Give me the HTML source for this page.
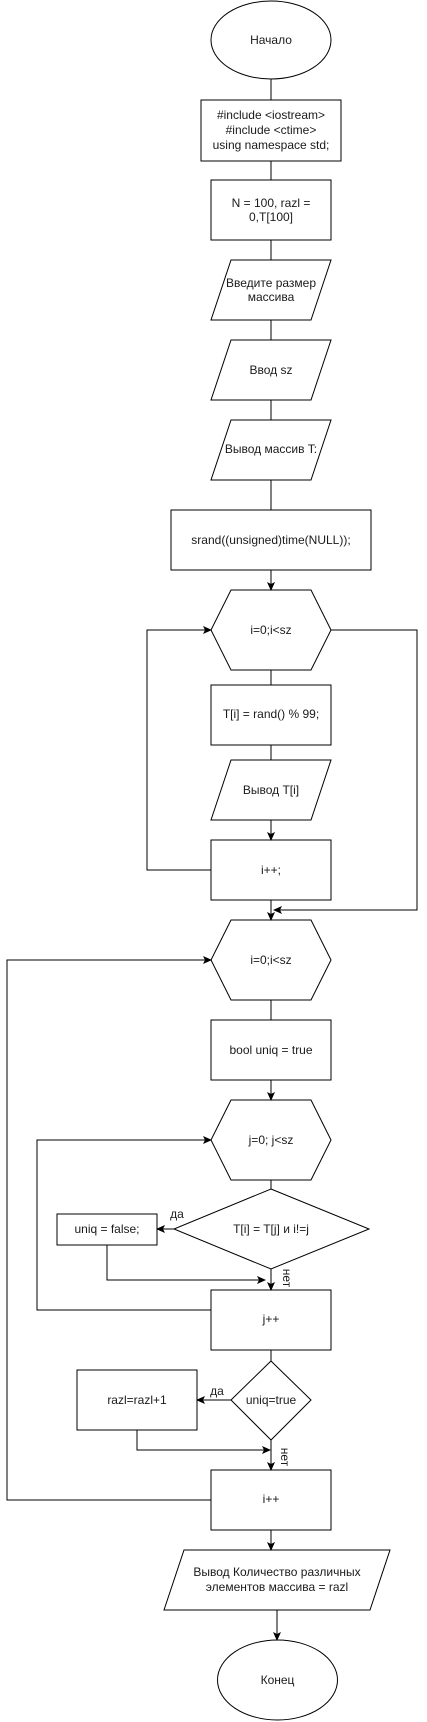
<!DOCTYPE html>
<html><head><meta charset="utf-8"><style>
html,body{margin:0;padding:0;background:#fff;}
svg{display:block;}
text{font-family:"Liberation Sans",Arial,sans-serif;font-size:12px;fill:#1a1a1a;text-anchor:middle;dominant-baseline:central;}
</style></head><body>
<svg width="427" height="1722" viewBox="0 0 427 1722" xmlns="http://www.w3.org/2000/svg">
<defs><marker id="a" markerWidth="10" markerHeight="10" refX="8" refY="4" orient="auto" markerUnits="userSpaceOnUse"><path d="M0,0 L9,4 L0,8 L2,4 Z" fill="#000"/></marker></defs>
<g fill="#fff" stroke="#000" stroke-width="1">
<ellipse cx="271" cy="40" rx="60" ry="39"/>
<rect x="201" y="100" width="140" height="61"/>
<rect x="211" y="180" width="120" height="60"/>
<polygon points="231,260 331,260 311,320 211,320"/>
<polygon points="231,340 331,340 311,400 211,400"/>
<polygon points="231,420 331,420 311,480 211,480"/>
<rect x="171" y="510" width="200" height="60"/>
<polygon points="231,590 311,590 331,630 311,670 231,670 211,630"/>
<rect x="211" y="685" width="120" height="60"/>
<polygon points="231,760 331,760 311,820 211,820"/>
<rect x="211" y="840" width="120" height="60"/>
<polygon points="231,920 311,920 331,960 311,1000 231,1000 211,960"/>
<rect x="211" y="1020" width="120" height="60"/>
<polygon points="231,1100 311,1100 331,1140 311,1180 231,1180 211,1140"/>
<polygon points="271,1189 369,1229 271,1269 174,1229"/>
<rect x="57" y="1214" width="100" height="31"/>
<rect x="211" y="1290" width="120" height="60"/>
<polygon points="271,1361 311,1400 271,1440 231,1400"/>
<rect x="77" y="1370" width="120" height="60"/>
<rect x="211" y="1470" width="120" height="60"/>
<polygon points="184,1550 390,1550 370,1610 164,1610"/>
<ellipse cx="277.5" cy="1680" rx="60" ry="40"/>
</g>
<g fill="none" stroke="#000" stroke-width="1">
<path d="M271,79 V100 M271,161 V180 M271,240 V260 M271,320 V340 M271,400 V420 M271,480 V510"/>
<path d="M271,570 V590" marker-end="url(#a)"/>
<path d="M271,670 V685 M271,745 V760"/>
<path d="M271,820 V840" marker-end="url(#a)"/>
<path d="M211,870 H147 V630 H211" marker-end="url(#a)"/>
<path d="M331,630 H417 V910 H274" marker-end="url(#a)"/>
<path d="M271,900 V920" marker-end="url(#a)"/>
<path d="M271,1000 V1020"/>
<path d="M271,1080 V1100" marker-end="url(#a)"/>
<path d="M271,1180 V1189"/>
<path d="M174,1229 H157" marker-end="url(#a)"/>
<path d="M107,1245 V1280 H265" marker-end="url(#a)"/>
<path d="M271,1269 V1290" marker-end="url(#a)"/>
<path d="M211,1310 H37 V1140 H211" marker-end="url(#a)"/>
<path d="M271,1350 V1361"/>
<path d="M231,1400 H197" marker-end="url(#a)"/>
<path d="M137,1430 V1450 H270" marker-end="url(#a)"/>
<path d="M271,1440 V1470" marker-end="url(#a)"/>
<path d="M211,1500 H7 V960 H211" marker-end="url(#a)"/>
<path d="M271,1530 V1550" marker-end="url(#a)"/>
<path d="M277,1610 V1640" marker-end="url(#a)"/>
</g>
<text x="271" y="40">Начало</text>
<text x="271" y="115">#include &lt;iostream&gt;</text>
<text x="271" y="130">#include &lt;ctime&gt;</text>
<text x="271" y="145">using namespace std;</text>
<text x="271" y="203">N = 100, razl =</text>
<text x="271" y="217">0,T[100]</text>
<text x="271" y="283">Введите размер</text>
<text x="271" y="297">массива</text>
<text x="271" y="370">Ввод sz</text>
<text x="271" y="449">Вывод массив T:</text>
<text x="271" y="540">srand((unsigned)time(NULL));</text>
<text x="271" y="630">i=0;i&lt;sz</text>
<text x="271" y="714">T[i] = rand() % 99;</text>
<text x="271" y="790">Вывод T[i]</text>
<text x="271" y="870">i++;</text>
<text x="271" y="960">i=0;i&lt;sz</text>
<text x="271" y="1050">bool uniq = true</text>
<text x="271" y="1140">j=0; j&lt;sz</text>
<text x="271" y="1229">T[i] = T[j] и i!=j</text>
<text x="107" y="1229">uniq = false;</text>
<text x="177" y="1214">да</text>
<text x="0" y="0" transform="translate(287,1278) rotate(90)">нет</text>
<text x="271" y="1319">j++</text>
<text x="271" y="1400">uniq=true</text>
<text x="137" y="1400">razl=razl+1</text>
<text x="217" y="1391">да</text>
<text x="0" y="0" transform="translate(285,1457) rotate(90)">нет</text>
<text x="271" y="1499">i++</text>
<text x="277" y="1572">Вывод Количество различных</text>
<text x="277" y="1587">элементов массива = razl</text>
<text x="277.5" y="1680">Конец</text>
</svg>
</body></html>
